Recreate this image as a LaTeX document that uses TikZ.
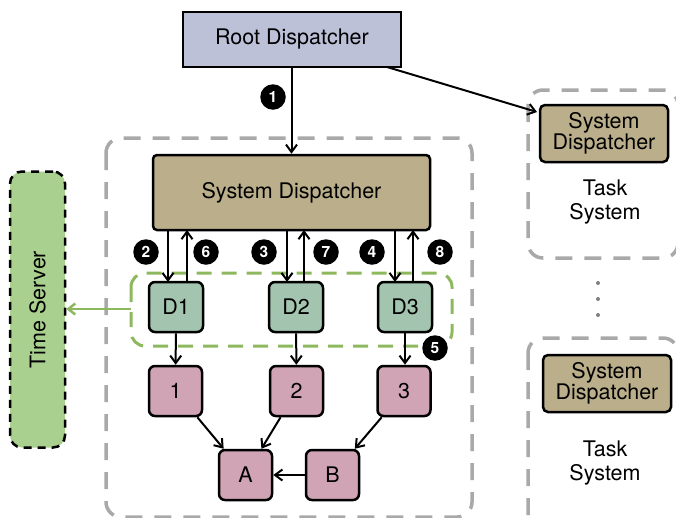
\documentclass[tikz,border=0pt]{standalone}
\usepackage{fontspec}
\setmainfont{TeX Gyre Heros}
\usetikzlibrary{arrows.meta,calc}
\definecolor{rootc}{HTML}{BCC1D8}
\definecolor{sdc}{HTML}{BBAF8B}
\definecolor{dc}{HTML}{A3C4AF}
\definecolor{tc}{HTML}{D0A3B5}
\definecolor{tsc}{HTML}{A9D08E}
\definecolor{grayd}{HTML}{A9A9A9}
\definecolor{greend}{HTML}{8DB85E}
\tikzset{
  txt/.style={font=\fontsize{21.5}{25}\selectfont},
  box/.style={draw=black, line width=2.5pt, inner sep=0pt, txt},
  dbox/.style={box, fill=dc, rounded corners=6pt, minimum width=54pt, minimum height=50pt},
  tbox/.style={box, fill=tc, rounded corners=6pt, minimum width=53pt, minimum height=50pt},
  sdsmall/.style={box, fill=sdc, rounded corners=5pt, minimum width=128pt, minimum height=57pt, align=center, font=\fontsize{21.5}{23}\selectfont},
  badge/.style={circle, fill=black, text=white, inner sep=0pt, minimum size=25.5pt, font=\bfseries\fontsize{15.5}{15.5}\selectfont},
  arr/.style={line width=2pt, -{Straight Barb[length=7.5pt,width=11pt,line width=2pt]}},
  grayframe/.style={draw=grayd, line width=3.5pt, dash pattern=on 17pt off 12pt, rounded corners=15pt},
  greenframe/.style={draw=greend, line width=3pt, dash pattern=on 15pt off 10pt, rounded corners=14pt},
}
\begin{document}
\begin{tikzpicture}[x=1pt,y=-1pt]
\useasboundingbox (0,0) rectangle (676,517);
\clip (0,0) rectangle (676,517);
% frames
\draw[grayframe] (106,138) rectangle (472,517);
\draw[grayframe] (528,90) rectangle (678,258);
\draw[grayframe] (528,338) rectangle (678,540);
\draw[greenframe] (131,273) rectangle (452,346);
% nodes
\node[box, fill=rootc, minimum width=218pt, minimum height=55pt] (root) at (292,39.5) {Root Dispatcher};
\node[box, fill=sdc, rounded corners=4pt, minimum width=277pt, minimum height=75pt] (sd) at (291.5,192.5) {System Dispatcher};
\node[dbox] (d1) at (176,307) {D1};
\node[dbox] (d2) at (296,307) {D2};
\node[dbox] (d3) at (405,307) {D3};
\node[tbox] (t1) at (175.5,391) {1};
\node[tbox] (t2) at (296.5,391) {2};
\node[tbox] (t3) at (404,391) {3};
\node[tbox] (a) at (245.5,475) {A};
\node[tbox] (b) at (332.5,475) {B};
\node[box, draw=black, dash pattern=on 8pt off 6pt, fill=tsc, rounded corners=12pt, minimum width=55pt, minimum height=276pt] (ts) at (37.5,309.5) {};
\node[txt, rotate=90] (tstext) at (ts.center) {Time Server};
\node[sdsmall] (rsd1) at (604,133.5) {System\\[-2pt]Dispatcher};
\node[txt, align=center] (rts1) at (605,202.5) {Task\\[-1pt]System};
\node[sdsmall] (rsd2) at (607,383.5) {System\\[-2pt]Dispatcher};
\node[txt, align=center] (rts2) at (605,462.5) {Task\\[-1pt]System};
\foreach \yy in {283,299,315}{\fill[gray] (598,\yy) circle (2pt);}
% badges
\node[badge] (b1) at (273,97) {1};
\node[badge] (b2) at (146,252) {2};
\node[badge] (b6) at (206,252) {6};
\node[badge] (b3) at (264,252) {3};
\node[badge] (b7) at (326,252) {7};
\node[badge] (b4) at (372,252) {4};
\node[badge] (b8) at (440,252) {8};
\node[badge] (b5) at (435,348) {5};
% connectors
\draw[arr] (root.south -| sd.north) -- (sd.north);
\coordinate (rootout) at (387,67);
\coordinate (rsdin) at (537,112);
\draw[arr] (rootout) -- (rsdin);
\foreach \dn/\up in {168/187, 287/304, 395/413}{
  \draw[arr] (\dn,230) -- (\dn,282);
  \draw[arr] (\up,282) -- (\up,230);
}
\draw[arr] (d1) -- (t1);
\draw[arr] (d2) -- (t2);
\draw[arr] (d3.south) -- (d3.south |- t3.north);
\draw[arr] (t1) -- (a);
\draw[arr] (t2) -- (a);
\draw[arr] (t3) -- (b);
\draw[arr] (b) -- (a);
\coordinate (gout) at (131,309);
\draw[draw=greend, line width=2.5pt, -{Straight Barb[length=7pt,width=11pt,line width=2.5pt]}] (gout) -- (ts.east |- gout);
\end{tikzpicture}
\end{document}
